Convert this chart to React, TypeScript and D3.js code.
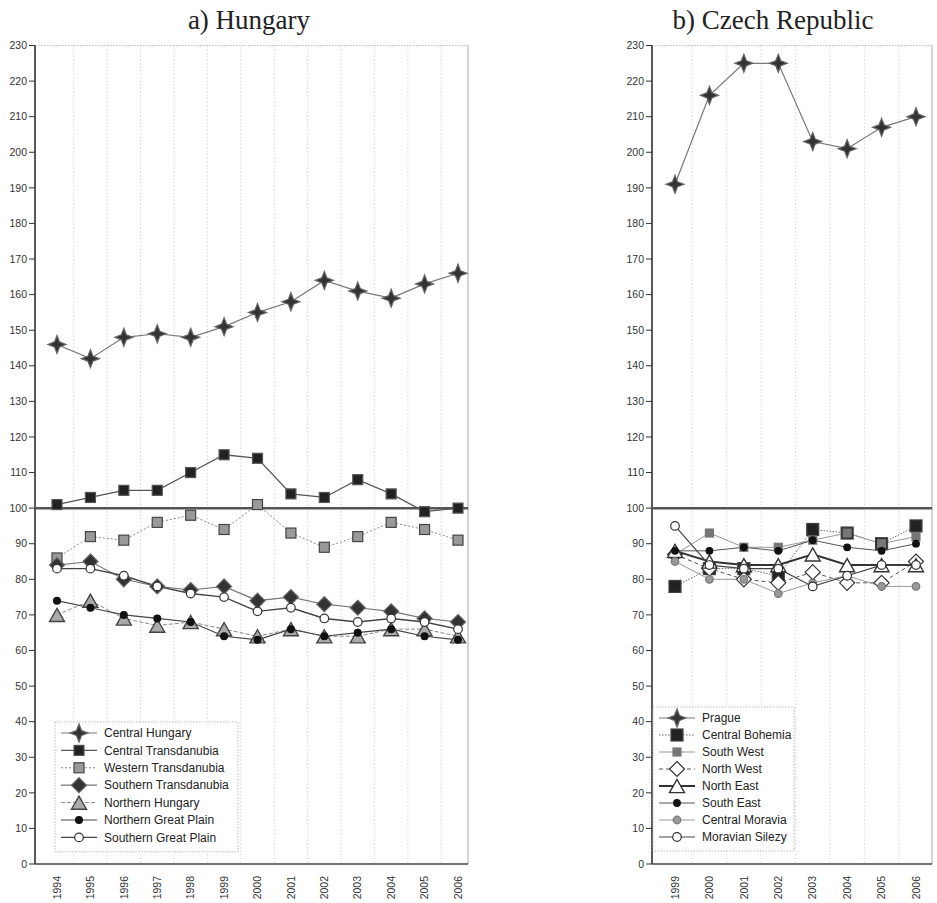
import React from "react";
import * as d3 from "d3";

// ---- data ----
const huYears = ["1994", "1995", "1996", "1997", "1998", "1999", "2000", "2001", "2002", "2003", "2004", "2005", "2006"];
const centralHungary = [146, 142, 148, 149, 148, 151, 155, 158, 164, 161, 159, 163, 166];
const centralTransdanubia = [101, 103, 105, 105, 110, 115, 114, 104, 103, 108, 104, 99, 100];
const westernTransdanubia = [86, 92, 91, 96, 98, 94, 101, 93, 89, 92, 96, 94, 91];
const southernTransdanubia = [84, 85, 80, 78, 77, 78, 74, 75, 73, 72, 71, 69, 68];
const northernHungary = [70, 74, 69, 67, 68, 66, 64, 66, 64, 64, 66, 66, 64];
const northernGreatPlain = [74, 72, 70, 69, 68, 64, 63, 66, 64, 65, 66, 64, 63];
const southernGreatPlain = [83, 83, 81, 78, 76, 75, 71, 72, 69, 68, 69, 68, 66];

const czYears = ["1999", "2000", "2001", "2002", "2003", "2004", "2005", "2006"];
const prague = [191, 216, 225, 225, 203, 201, 207, 210];
const centralBohemia = [78, 83, 83, 81, 94, 93, 90, 95];
const southWest = [87, 93, 89, 89, 91, 93, 90, 92];
const northWest = [87, 83, 80, 79, 82, 79, 79, 85];
const northEast = [88, 85, 84, 84, 87, 84, 84, 84];
const southEast = [88, 88, 89, 88, 91, 89, 88, 90];
const centralMoravia = [85, 80, 80, 76, 79, 81, 78, 78];
const moravianSilezy = [95, 84, 83, 83, 78, 81, 84, 84];

const yTicks = d3.range(0, 231, 10);

type MarkerType = "star" | "square" | "diamond" | "triangle" | "dot" | "circle";
interface Style {
  stroke: string;
  width: number;
  dash?: string;
  marker: MarkerType;
  size: number;
  fill: string;
  mstroke: string;
}
interface Series {
  name: string;
  values: number[];
  style: Style;
}

const starStyle: Style = { stroke: "#777", width: 1.2, marker: "star", size: 9, fill: "#333", mstroke: "#666" };

const huSeries: Series[] = [
  { name: "Central Hungary", values: centralHungary, style: starStyle },
  { name: "Central Transdanubia", values: centralTransdanubia, style: { stroke: "#555", width: 1.3, marker: "square", size: 10, fill: "#222", mstroke: "#555" } },
  { name: "Western Transdanubia", values: westernTransdanubia, style: { stroke: "#888", width: 1, dash: "2,2", marker: "square", size: 10, fill: "#999", mstroke: "#444" } },
  { name: "Southern Transdanubia", values: southernTransdanubia, style: { stroke: "#777", width: 1.2, marker: "diamond", size: 7.5, fill: "#333", mstroke: "#666" } },
  { name: "Northern Hungary", values: northernHungary, style: { stroke: "#888", width: 1, dash: "4,2", marker: "triangle", size: 7.5, fill: "#aaa", mstroke: "#444" } },
  { name: "Northern Great Plain", values: northernGreatPlain, style: { stroke: "#444", width: 1.2, marker: "dot", size: 3.4, fill: "#111", mstroke: "#111" } },
  { name: "Southern Great Plain", values: southernGreatPlain, style: { stroke: "#444", width: 1.4, marker: "circle", size: 4.3, fill: "#fff", mstroke: "#333" } },
];

const czSeries: Series[] = [
  { name: "Prague", values: prague, style: starStyle },
  { name: "Central Bohemia", values: centralBohemia, style: { stroke: "#666", width: 1, dash: "1.5,1.5", marker: "square", size: 12, fill: "#222", mstroke: "#444" } },
  { name: "South West", values: southWest, style: { stroke: "#999", width: 1, marker: "square", size: 8, fill: "#777", mstroke: "#777" } },
  { name: "North West", values: northWest, style: { stroke: "#555", width: 1, dash: "4,3", marker: "diamond", size: 7.5, fill: "#fff", mstroke: "#333" } },
  { name: "North East", values: northEast, style: { stroke: "#333", width: 2, marker: "triangle", size: 7.5, fill: "#fff", mstroke: "#333" } },
  { name: "South East", values: southEast, style: { stroke: "#555", width: 1, marker: "dot", size: 3.3, fill: "#111", mstroke: "#111" } },
  { name: "Central Moravia", values: centralMoravia, style: { stroke: "#999", width: 1, marker: "circle", size: 3.8, fill: "#999", mstroke: "#777" } },
  { name: "Moravian Silezy", values: moravianSilezy, style: { stroke: "#444", width: 1.2, marker: "circle", size: 4.3, fill: "#fff", mstroke: "#333" } },
];

function Marker({ s, x, y }: { s: Style; x: number; y: number }) {
  const r = s.size;
  const common = { fill: s.fill, stroke: s.mstroke, strokeWidth: 1.2 };
  if (s.marker === "star") {
    const k = r * 0.28;
    const d = `M0,${-r}L${k},${-k}L${r},0L${k},${k}L0,${r}L${-k},${k}L${-r},0L${-k},${-k}Z`;
    return <path d={d} transform={`translate(${x},${y})`} {...common} />;
  }
  if (s.marker === "square") return <rect x={x - r / 2} y={y - r / 2} width={r} height={r} {...common} />;
  if (s.marker === "diamond") {
    return <path d={`M0,${-r}L${r},0L0,${r}L${-r},0Z`} transform={`translate(${x},${y})`} {...common} />;
  }
  if (s.marker === "triangle") {
    return <path d={`M0,${-r}L${r},${r * 0.75}L${-r},${r * 0.75}Z`} transform={`translate(${x},${y + 1})`} {...common} strokeWidth={1.4} />;
  }
  return <circle cx={x} cy={y} r={r} {...common} />;
}

interface PanelProps {
  title: string;
  titleX: number;
  years: string[];
  series: Series[];
  left: number;
  right: number;
  first: number;
  last: number;
  legendX: number;
  legendY: number;
  legendW: number;
  rowH: number;
}

const font = "'Liberation Sans', Arial, sans-serif";

function Panel(p: PanelProps) {
  const top = 45.5;
  const bottom = 864;
  const x = d3.scalePoint<string>().domain(p.years).range([p.first, p.last]);
  const y = d3.scaleLinear().domain([0, 230]).range([bottom, top]);
  const cx = (yr: string) => x(yr) ?? 0;
  const line = d3
    .line<number>()
    .x((_, i) => cx(p.years[i]))
    .y((d) => y(d));
  const legendH = p.rowH * p.series.length + 8;
  return (
    <g>
      <text
        x={p.titleX}
        y={29}
        textAnchor="middle"
        fontFamily="'Liberation Serif', 'Times New Roman', serif"
        fontSize={27}
        fill="#222"
      >
        {p.title}
      </text>
      {/* grid */}
      {p.years.slice(1).map((yr) => {
        const gx = cx(yr) - x.step() / 2;
        return <line key={yr} x1={gx} x2={gx} y1={top} y2={bottom} stroke="#ccc" strokeWidth={0.8} strokeDasharray="1.5,2" />;
      })}
      <line x1={p.left} x2={p.right} y1={top} y2={top} stroke="#bbb" strokeWidth={1} strokeDasharray="1.5,1.5" />
      <line x1={p.right} x2={p.right} y1={top} y2={bottom} stroke="#aaa" strokeWidth={1} />
      {/* axes */}
      <line x1={p.left} x2={p.left} y1={top} y2={bottom} stroke="#222" strokeWidth={1.5} />
      <line x1={p.left} x2={p.right} y1={bottom} y2={bottom} stroke="#444" strokeWidth={1.3} />
      {yTicks.map((t) => (
        <g key={t}>
          <line x1={p.left - 6} x2={p.left} y1={y(t)} y2={y(t)} stroke="#333" strokeWidth={1} />
          <text x={p.left - 8} y={y(t)} dy="0.35em" textAnchor="end" fontFamily={font} fontSize={10.5} fill="#333">
            {t}
          </text>
        </g>
      ))}
      {p.years.map((yr) => (
        <text
          key={yr}
          transform={`translate(${cx(yr)},${bottom + 12}) rotate(-90)`}
          dy="0.35em"
          textAnchor="end"
          fontFamily={font}
          fontSize={10.5}
          fill="#333"
        >
          {yr}
        </text>
      ))}
      {/* reference line */}
      <line x1={p.left} x2={p.right} y1={y(100)} y2={y(100)} stroke="#555" strokeWidth={2.5} />
      {/* series */}
      {p.series.map((s) => (
        <path key={s.name} d={line(s.values) ?? ""} fill="none" stroke={s.style.stroke} strokeWidth={s.style.width} strokeDasharray={s.style.dash} />
      ))}
      {p.series.map((s) => (
        <g key={s.name + "-m"}>
          {s.values.map((v, i) => (
            <Marker key={i} s={s.style} x={cx(p.years[i])} y={y(v)} />
          ))}
        </g>
      ))}
      {/* legend */}
      <rect x={p.legendX} y={p.legendY} width={p.legendW} height={legendH} fill="#fff" stroke="#bbb" strokeWidth={1} strokeDasharray="1.5,1.5" />
      {p.series.map((s, i) => {
        const ly = p.legendY + 11 + i * p.rowH;
        const lx = p.legendX + 6;
        return (
          <g key={s.name + "-l"}>
            <line x1={lx} x2={lx + 36} y1={ly} y2={ly} stroke={s.style.stroke} strokeWidth={s.style.width} strokeDasharray={s.style.dash} />
            <Marker s={s.style} x={lx + 18} y={ly} />
            <text x={lx + 43} y={ly} dy="0.35em" fontFamily={font} fontSize={12} fill="#222">
              {s.name}
            </text>
          </g>
        );
      })}
    </g>
  );
}

export default function App() {
  return (
    <svg width={937} height={903} style={{ position: "absolute", left: 0, top: 0, background: "#fff" }}>
      <rect width={937} height={903} fill="#fff" />
      <Panel
        title="a) Hungary"
        titleX={249}
        years={huYears}
        series={huSeries}
        left={35}
        right={468}
        first={57}
        last={458}
        legendX={55}
        legendY={722}
        legendW={183}
        rowH={17.4}
      />
      <Panel
        title="b) Czech Republic"
        titleX={773}
        years={czYears}
        series={czSeries}
        left={652}
        right={932}
        first={675}
        last={916}
        legendX={653}
        legendY={707}
        legendW={141}
        rowH={17}
      />
    </svg>
  );
}
